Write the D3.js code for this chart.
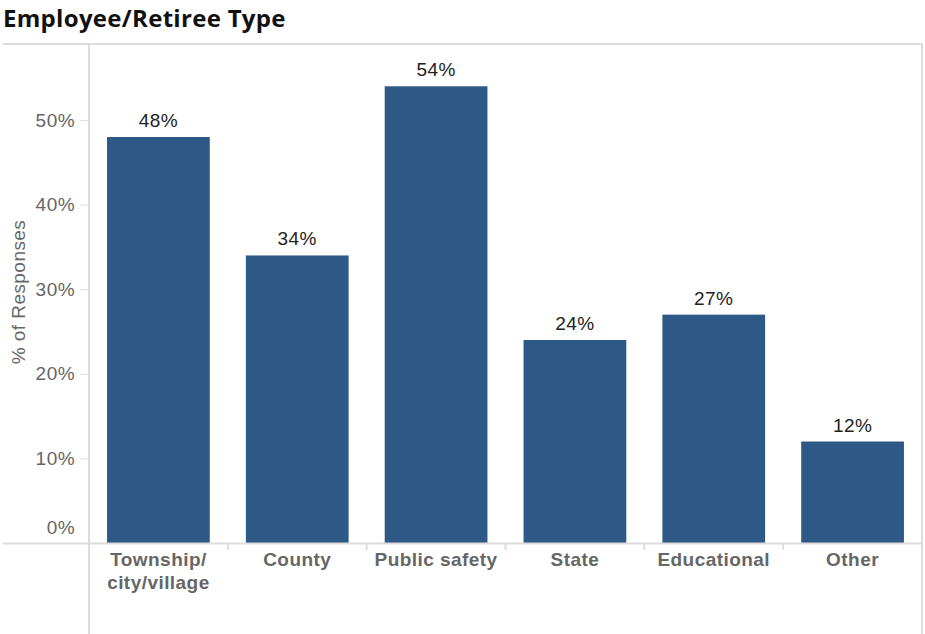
<!DOCTYPE html>
<html>
<head>
<meta charset="utf-8">
<script src="https://cdn.jsdelivr.net/npm/d3@7"></script>
<style>
  html, body { margin: 0; padding: 0; background: #fff; }
  svg { display: block; }
</style>
</head>
<body>
<svg id="chart" width="925" height="634"></svg>
<script>
// Share of responses by employee/retiree type
const categories = ["Township/\ncity/village", "County", "Public safety", "State", "Educational", "Other"];
const values = [48, 34, 54, 24, 27, 12];
const yTicks = [0, 10, 20, 30, 40, 50];

const frame = { left: 3, top: 44, right: 922, bottom: 634 };
const plot = { left: 89, right: 922, top: 44, bottom: 543 };

const barColor = "#2e5986";
const ruleColor = "#dcdcdc";
const labelColor = "#666666";
const bodyFont = "Arial, 'Liberation Sans', sans-serif";
const bodySize = 19;
const bodySpacing = 0.45;

const svg = d3.select("#chart");

// Title
svg.append("text")
  .attr("x", 3).attr("y", 27)
  .attr("font-family", "'Open Sans', Lato, sans-serif")
  .attr("font-weight", 700)
  .attr("font-size", 24)
  .attr("letter-spacing", 0.3)
  .attr("fill", "#111")
  .text("Employee/Retiree Type");

const x = d3.scaleBand()
  .domain(categories)
  .range([plot.left, plot.right])
  .paddingInner(0.26)
  .paddingOuter(0.13);

const y = d3.scaleLinear()
  .domain([0, 59])
  .range([plot.bottom, plot.top]);

// Frame rules
svg.append("line")
  .attr("x1", frame.left).attr("x2", frame.right)
  .attr("y1", frame.top).attr("y2", frame.top)
  .attr("stroke", ruleColor).attr("stroke-width", 2);
svg.append("line")
  .attr("x1", frame.right).attr("x2", frame.right)
  .attr("y1", frame.top).attr("y2", frame.bottom)
  .attr("stroke", ruleColor).attr("stroke-width", 2);
svg.append("line")
  .attr("x1", plot.left).attr("x2", plot.left)
  .attr("y1", frame.top).attr("y2", frame.bottom)
  .attr("stroke", ruleColor).attr("stroke-width", 2);

// Bars
svg.append("g")
  .selectAll("rect")
  .data(values)
  .join("rect")
  .attr("x", (d, i) => x(categories[i]))
  .attr("width", x.bandwidth())
  .attr("y", d => y(d))
  .attr("height", d => y(0) - y(d))
  .attr("fill", barColor);

// Baseline
svg.append("line")
  .attr("x1", frame.left).attr("x2", frame.right)
  .attr("y1", plot.bottom + 0.5).attr("y2", plot.bottom + 0.5)
  .attr("stroke", ruleColor).attr("stroke-width", 2);

// Y axis
const yAxis = svg.append("g")
  .attr("transform", `translate(${plot.left},0)`)
  .call(d3.axisLeft(y).tickValues(yTicks).tickFormat(d => d + "%").tickSize(9).tickPadding(5));
yAxis.select(".domain").remove();
yAxis.selectAll(".tick line").attr("stroke", ruleColor);
yAxis.selectAll(".tick text")
  .attr("font-family", bodyFont)
  .attr("font-size", bodySize)
  .attr("letter-spacing", bodySpacing)
  .attr("fill", labelColor)
  .attr("dy", d => d === 0 ? "-0.5em" : "0.32em");

// Y axis title
svg.append("text")
  .attr("transform", "translate(25,292) rotate(-90)")
  .attr("text-anchor", "middle")
  .attr("font-family", bodyFont)
  .attr("font-size", bodySize)
  .attr("letter-spacing", bodySpacing)
  .attr("fill", labelColor)
  .text("% of Responses");

// Category separators below the baseline
const step = x.step();
svg.append("g")
  .selectAll("line")
  .data(categories.slice(1))
  .join("line")
  .attr("x1", d => x(d) - (step - x.bandwidth()) / 2)
  .attr("x2", d => x(d) - (step - x.bandwidth()) / 2)
  .attr("y1", plot.bottom)
  .attr("y2", plot.bottom + 7)
  .attr("stroke", ruleColor).attr("stroke-width", 2);

// Category labels
const catLabels = svg.append("g")
  .selectAll("text")
  .data(categories)
  .join("text")
  .attr("x", d => x(d) + x.bandwidth() / 2)
  .attr("y", plot.bottom + 23)
  .attr("text-anchor", "middle")
  .attr("font-family", bodyFont)
  .attr("font-weight", 700)
  .attr("font-size", bodySize)
  .attr("letter-spacing", bodySpacing)
  .attr("fill", labelColor);
catLabels.selectAll("tspan")
  .data(d => d.split("\n"))
  .join("tspan")
  .attr("x", function () { return d3.select(this.parentNode).attr("x"); })
  .attr("dy", (d, i) => i === 0 ? 0 : 23)
  .text(d => d);

// Value labels
svg.append("g")
  .selectAll("text")
  .data(values)
  .join("text")
  .attr("x", (d, i) => x(categories[i]) + x.bandwidth() / 2)
  .attr("y", d => y(d) - 10)
  .attr("text-anchor", "middle")
  .attr("font-family", bodyFont)
  .attr("font-size", bodySize)
  .attr("letter-spacing", bodySpacing)
  .attr("fill", "#222")
  .text(d => d + "%");
</script>
</body>
</html>
